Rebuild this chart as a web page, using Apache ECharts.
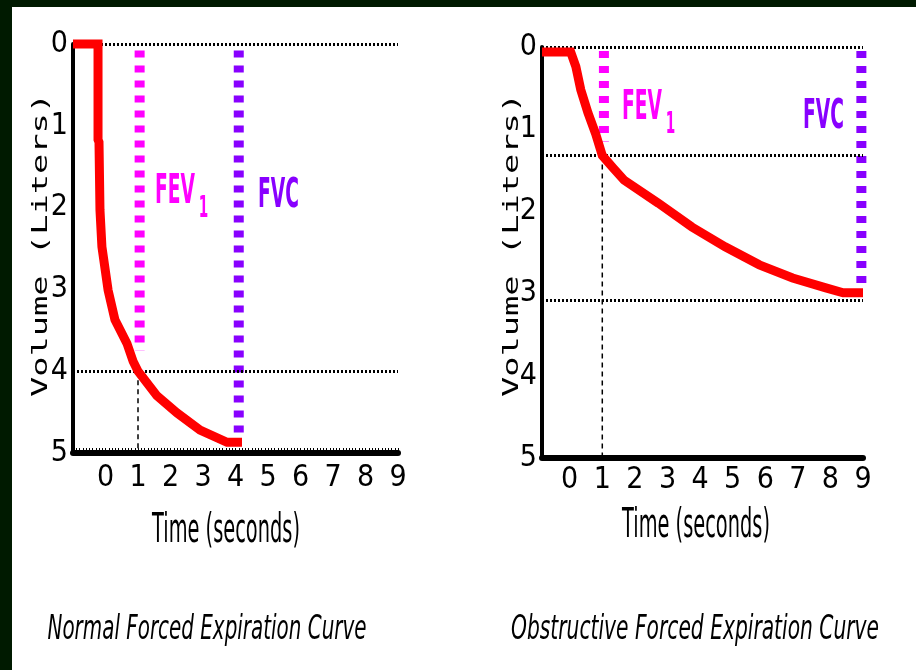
<!DOCTYPE html>
<html><head><meta charset="utf-8">
<script src="https://cdn.jsdelivr.net/npm/echarts@6.0.0/dist/echarts.min.js"></script>
<style>html,body{margin:0;padding:0;background:#001a00;}#chart{width:916px;height:670px;}</style>
</head><body><div id="chart"></div>
<script>
// ---- data ----
const timeTicks = [0, 1, 2, 3, 4, 5, 6, 7, 8, 9];
const volumeTicks = [0, 1, 2, 3, 4, 5];

const normalTime   = [-1, -0.23, -0.23, -0.2, -0.17, -0.11, 0.08, 0.29, 0.66, 0.85, 1.0, 1.58, 2.2, 2.91, 3.74, 4.2];
const normalVolume = [0, 0, 1.17, 1.2, 2.03, 2.48, 3.01, 3.37, 3.66, 3.88, 4.0, 4.3, 4.51, 4.72, 4.87, 4.87];
const normalGridVolumes = [0, 4, 5];
const normalFev1Time = 1.05, normalFev1Range = [0.08, 3.75];
const normalFvcTime = 4.1, normalFvcRange = [0.08, 4.8];
const normalDropTime = 1, normalDropRange = [4, 5];

const obsTime   = [-0.85, 0.03, 0.19, 0.34, 0.56, 0.8, 1.0, 1.33, 1.67, 2.72, 3.75, 4.77, 5.82, 6.84, 7.86, 8.39, 9.0];
const obsVolume = [0.06, 0.06, 0.24, 0.52, 0.8, 1.06, 1.32, 1.47, 1.62, 1.9, 2.19, 2.43, 2.65, 2.81, 2.93, 2.99, 2.99];
const obsGridVolumes = [0, 1.32, 3.08];
const obsFev1Time = 1.05, obsFev1Range = [0.05, 1.15];
const obsFvcTime = 8.95, obsFvcRange = [0.05, 2.9];
const obsDropTime = 1, obsDropRange = [1.32, 5];

const captions = ['Normal Forced Expiration Curve', 'Obstructive Forced Expiration Curve'];

// ---- helpers ----
const zip = (xs, ys) => xs.map((x, i) => [x, ys[i]]);
const vline = (t, r) => [[t, r[0]], [t, r[1]]];
const mctx = document.createElement('canvas').getContext('2d');
const textW = (txt, font) => { mctx.font = font; return mctx.measureText(txt).width; };

const RED = '#ff0000', MAG = '#ff00ff', PUR = '#8800ff';
const NARROW = '"Liberation Sans Narrow", "DejaVu Sans Condensed", "Roboto Condensed", sans-serif';

function xAxisCfg(gi, min, comb) {
  const a = {
    gridIndex: gi, type: 'value', min: min, max: 9,
    axisLine: { onZero: false, lineStyle: { color: '#000', width: 6 } },
    splitLine: { show: false },
    axisLabel: { color: '#000', fontSize: 30, fontFamily: NARROW, margin: comb ? 10 : 7,
                 customValues: timeTicks },
    axisTick: { show: false }
  };
  if (comb) {
    a.interval = 1;
    a.axisTick = { show: true, inside: true, length: 5, lineStyle: { color: '#000', width: 1 } };
    a.minorTick = { show: true, splitNumber: 10, length: 5, lineStyle: { color: '#000', width: 1 } };
    a.axisLabel.formatter = v => (v < 0 ? '' : String(v));
    delete a.axisLabel.customValues;
  }
  return a;
}
function yAxisCfg(gi) {
  return {
    gridIndex: gi, type: 'value', inverse: true, min: 0, max: 5, interval: 1,
    axisLine: { show: true, onZero: false, lineStyle: { color: '#000', width: 4 } },
    axisTick: { show: false }, splitLine: { show: false },
    axisLabel: { color: '#000', fontSize: 30, fontFamily: NARROW, margin: 5,
                 customValues: volumeTicks }
  };
}
function seriesFor(gi, curve, grid, fev1Data, fvcData, dropData) {
  return [
    { type: 'line', xAxisIndex: gi, yAxisIndex: gi, z: 1, symbol: 'none', clip: false,
      data: dropData,
      lineStyle: { color: '#000', width: 1.5, type: [5, 4] },
      markLine: { silent: true, symbol: 'none', label: { show: false },
        lineStyle: { color: '#000', width: 3, type: [2, 2] },
        data: grid.map(v => ({ yAxis: v })) } },
    { type: 'line', xAxisIndex: gi, yAxisIndex: gi, z: 2, symbol: 'none', clip: false,
      data: fev1Data, lineStyle: { color: MAG, width: 10, type: [7, 8] } },
    { type: 'line', xAxisIndex: gi, yAxisIndex: gi, z: 2, symbol: 'none', clip: false,
      data: fvcData, lineStyle: { color: PUR, width: 10, type: [7, 8] } },
    { type: 'line', xAxisIndex: gi, yAxisIndex: gi, z: 5, symbol: 'none', clip: false,
      data: curve, lineStyle: { color: RED, width: 9, join: 'miter' } }
  ];
}

// ---- text (condensed look via scaleX) ----
const fevFont = 'bold 41px "DejaVu Sans"';
const sLab = 40 / textW('FEV', fevFont);
function fevText(x, y) {
  return { type: 'text', x: x, y: y, scaleX: sLab, z: 10,
    style: { text: '{a|FEV}{b|1}', align: 'left', verticalAlign: 'top',
      rich: { a: { fontSize: 41, fontWeight: 'bold', fontFamily: 'DejaVu Sans', fill: MAG, lineHeight: 41, verticalAlign: 'top' },
              b: { fontSize: 30, fontWeight: 'bold', fontFamily: 'DejaVu Sans', fill: MAG, lineHeight: 30, padding: [22, 0, 0, 8], verticalAlign: 'top' } } } };
}
function fvcText(x, y) {
  return { type: 'text', x: x, y: y, scaleX: sLab, z: 10,
    style: { text: 'FVC', font: fevFont, fill: PUR, align: 'left', verticalAlign: 'top' } };
}
const timeFont = '40px "DejaVu Sans"';
const sTime = 148 / textW('Time (seconds)', timeFont);
function timeText(cx, cy) {
  return { type: 'text', x: cx, y: cy, scaleX: sTime, z: 10,
    style: { text: 'Time (seconds)', font: timeFont, fill: '#000', align: 'center', verticalAlign: 'middle' } };
}
const volFont = '22px "DejaVu Sans Mono"';
const sVol = 304 / textW('Volume (Liters)', volFont);
function volText(cx, cy) {
  return { type: 'text', x: cx, y: cy, rotation: Math.PI / 2, scaleX: sVol, z: 10,
    style: { text: 'Volume (Liters)', font: volFont, fill: '#000', align: 'center', verticalAlign: 'middle' } };
}
const capFont = 'italic 33px "DejaVu Sans"';
function capText(txt, cx, cy, w) {
  return { type: 'text', x: cx, y: cy, scaleX: w / textW(txt, capFont), z: 10,
    style: { text: txt, font: capFont, fill: '#000', align: 'center', verticalAlign: 'middle' } };
}

const chart = echarts.init(document.getElementById('chart'), null, { renderer: 'canvas', width: 916, height: 670 });
chart.setOption({
  animation: false,
  backgroundColor: '#001a00',
  grid: [ { left: 73, top: 44, width: 325, height: 409 },
          { left: 542, top: 47, width: 321, height: 411 } ],
  xAxis: [ xAxisCfg(0, -1, true), xAxisCfg(1, -0.85, false) ],
  yAxis: [ yAxisCfg(0), yAxisCfg(1) ],
  series: [
    ...seriesFor(0, zip(normalTime, normalVolume), normalGridVolumes,
      vline(normalFev1Time, normalFev1Range), vline(normalFvcTime, normalFvcRange), vline(normalDropTime, normalDropRange)),
    ...seriesFor(1, zip(obsTime, obsVolume), obsGridVolumes,
      vline(obsFev1Time, obsFev1Range), vline(obsFvcTime, obsFvcRange), vline(obsDropTime, obsDropRange))
  ],
  graphic: [
    { type: 'rect', z: -100, silent: true, shape: { x: 12, y: 7, width: 904, height: 663 }, style: { fill: '#fff' } },
    fevText(155, 172), fvcText(258, 176),
    fevText(622, 88), fvcText(803, 97),
    timeText(226, 532), timeText(696, 527),
    volText(41, 245), volText(512, 245),
    capText(captions[0], 207, 630, 319), capText(captions[1], 695, 630, 368)
  ]
});
</script></body></html>
